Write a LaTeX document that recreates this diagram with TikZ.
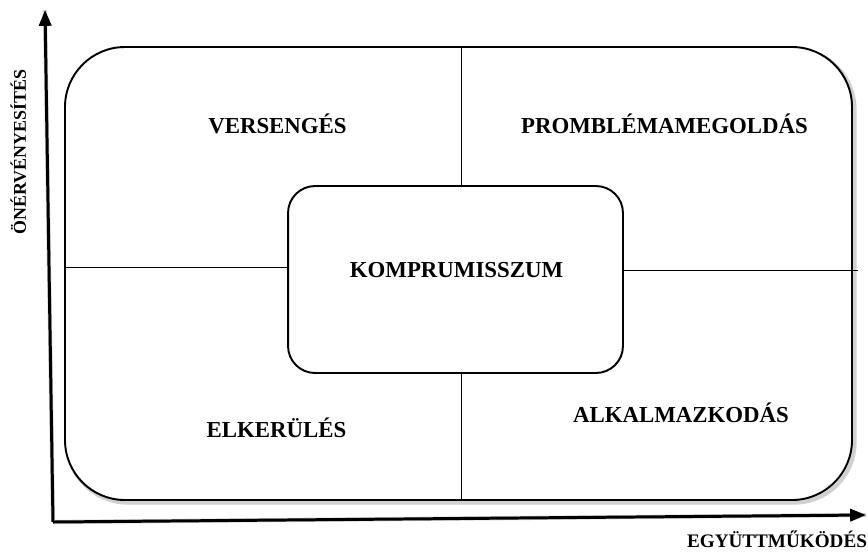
\documentclass[tikz,border=0pt]{standalone}
\usepackage{fontspec}
\setmainfont{Liberation Serif}
\usetikzlibrary{arrows.meta,calc}

\begin{document}
\begin{tikzpicture}[
    x=0.02cm, y=-0.02cm,
    >={Triangle[length=9pt,width=7pt]},
    axis/.style={line width=1.7pt, ->},
    frame line/.style={line width=1.1pt},
    divider/.style={line width=0.5pt},
    shade/.style={draw=black!18, line width=2.4pt},
    quad/.style={font=\bfseries\fontsize{13}{15}\selectfont, anchor=base, inner sep=0pt},
    axis label/.style={font=\bfseries\fontsize{10.2}{12}\selectfont, anchor=base, inner sep=0pt},
    centerbox/.style={draw, line width=1.1pt, rounded corners=0.54cm,
      minimum width=6.7cm, minimum height=3.74cm}
  ]
  \useasboundingbox (0,0) rectangle (868,552);

  \def\Rf{1.2cm} % corner radius of the frame

  % axes
  \coordinate (O) at (53,522);
  \coordinate (Ytip) at (45,10);
  \coordinate (Xtip) at (866,515);

  % shadows
  \begin{scope}[shift={(2.5,2.5)}]
    \draw[shade] (O) -- (Ytip);
    \draw[shade] (O) -- (Xtip);
    \draw[shade, rounded corners=\Rf] (65,47) rectangle (852,500);
    \draw[shade, rounded corners=0.54cm] (288,186) rectangle (623,373);
    \draw[shade, line width=1pt] (461,47) -- (461,500);
  \end{scope}

  \draw[axis] (O) -- (Ytip);
  \draw[axis] (O) -- (Xtip);

  % frame
  \draw[frame line, fill=white, rounded corners=\Rf] (65,47) rectangle (852,500);
  \coordinate (Ftop) at (461,47);
  \coordinate (Fbot) at (461,500);
  \coordinate (Fleft) at (65,267);
  \coordinate (Fright) at (858,270);

  \node[centerbox] (komp) at (455.5,279.5) {};

  % dividers
  \draw[divider] (Ftop) -- (Ftop |- komp.north);
  \draw[divider] (Fbot |- komp.south) -- (Fbot);
  \draw[divider] (Fleft) -- (komp.west |- Fleft);
  \draw[divider] (komp.east |- Fright) -- (Fright);

  % labels
  \node[quad] (verseng) at (277.5,133) {VERSENGÉS};
  \node[quad] (problema) at (664.5,133) {PROMBLÉMAMEGOLDÁS};
  \node[quad] (kompr) at (456.5,277) {KOMPRUMISSZUM};
  \node[quad] (elker) at (276.5,437) {ELKERÜLÉS};
  \node[quad] (alkalm) at (681,422) {ALKALMAZKODÁS};

  \node[axis label, rotate=90] (onerv) at (26,152) {ÖNÉRVÉNYESÍTÉS};
  \node[axis label, font=\bfseries\fontsize{10.9}{13}\selectfont] (egyutt) at (777,547) {EGYÜTTMŰKÖDÉS};
\end{tikzpicture}
\end{document}
